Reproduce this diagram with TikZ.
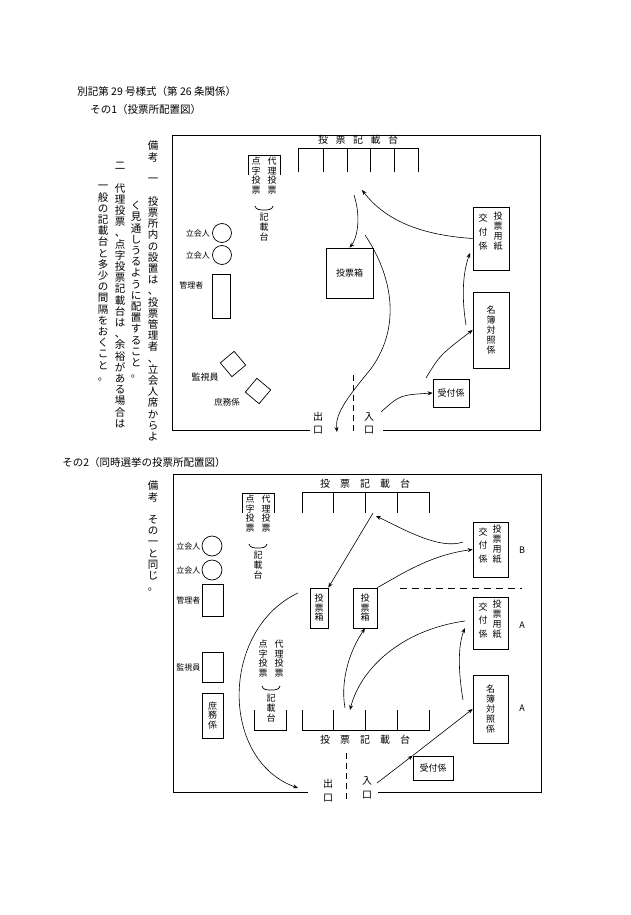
\documentclass[tikz,border=0pt]{standalone}
\usepackage{fontspec}
\setmainfont{Noto Sans CJK JP}
\usetikzlibrary{arrows.meta, positioning, calc}

% vertical text: one character per line
\def\vtx#1{\ifx\relax#1\else\hbox to 1.1em{\hss#1\hss}\expandafter\vtx\fi}
\newcommand\vt[2][1.2em]{\vbox{\baselineskip=#1\lineskip=0pt\vtx#2\relax}}

\begin{document}
\begin{tikzpicture}[x=1pt, y=-1pt,
                    line width=0.7pt,
                    small_label/.style={inner sep=0pt, font=\fontsize{8}{9}\selectfont},
                    vert_label/.style={inner sep=0pt, anchor=north, font=\fontsize{9}{10}\selectfont},
                    note_text/.style={inner sep=0pt, anchor=north, font=\fontsize{10.5}{12}\selectfont},
                    staff/.style={draw, inner sep=0pt, font=\fontsize{9}{10}\selectfont},
                    door/.style={inner sep=0pt, font=\fontsize{10}{11}\selectfont},
                    flow/.style={-{Stealth[length=5pt, width=4pt]}, line width=0.6pt},
                    ]
    \useasboundingbox (0,0) rectangle (630,915);

    % Headings
    \node[anchor=west, inner sep=0pt, font=\fontsize{10.5}{12}\selectfont] (title) at (77,92) {別記第 29 号様式（第 26 条関係）};
    \node[anchor=west, inner sep=0pt, font=\fontsize{10.5}{12}\selectfont] (part1) at (90,110) {その1（投票所配置図）};
    \node[anchor=west, inner sep=0pt, font=\fontsize{10.5}{12}\selectfont] (part2) at (62,463) {その2（同時選挙の投票所配置図）};

    % Notes
    \node[note_text] (biko1) at (153,140) {\vt{備考}};
    \node[note_text] (note1a) at (153,178) {\vt[11.2pt]{一　投票所内の設置は、投票管理者、立会人席からよ}};
    \node[note_text] (note1b) at (136,201) {\vt[11.2pt]{く見通しうるように配置すること。}};
    \node[note_text] (note2a) at (120,162) {\vt[11.2pt]{二　代理投票、点字投票記載台は、余裕がある場合は}};
    \node[note_text] (note2b) at (103,185) {\vt[11.2pt]{一般の記載台と多少の間隔をおくこと。}};
    \node[note_text] (biko2) at (153,480) {\vt{備考}};
    \node[note_text] (note3) at (153,515) {\vt[11.2pt]{その一と同じ。}};

    % ---------------- Layout 1 ----------------
    \draw (310,430) -- (172,430) -- (172,135) -- (540,135) -- (540,430) -- (383,430);
    \draw[dashed, dash pattern=on 6pt off 4pt] (353,375) -- (353,434);
    \node[door] (exit1) at (318,423) {\vt[1.3em]{出口}};
    \node[door] (entry1) at (369,423) {\vt[1.3em]{入口}};

    % voting booths
    \draw (298,172) -- (298,148) -- (418,148) -- (418,172);
    \foreach \x in {323,347,370,394} \draw (\x,148) -- (\x,172);
    \node[inner sep=0pt, font=\fontsize{10}{12}\selectfont] (booths1) at (358,140) {投\hspace{0.75em}票\hspace{0.75em}記\hspace{0.75em}載\hspace{0.75em}台};

    % proxy / braille booth
    \draw (248,175) -- (248,155) -- (280,155) -- (280,175);
    \node[vert_label] (proxy1) at (272,157) {\vt[1.05em]{代理投票}};
    \node[vert_label] (braille1) at (256,157) {\vt[1.05em]{点字投票}};
    \draw (255,206) to[out=-80, in=180] (264,210) to[out=0, in=-100] (273,206);
    \node[vert_label] (desk1) at (264,213) {\vt[1.1em]{記載台}};

    % observers and manager
    \node[draw, circle, minimum size=19pt, inner sep=0pt] (witness1a) at (222,233) {};
    \node[draw, circle, minimum size=19pt, inner sep=0pt] (witness1b) at (222,255) {};
    \node[small_label, left=2pt of witness1a] {立会人};
    \node[small_label, left=2pt of witness1b] {立会人};
    \node[draw, minimum width=18pt, minimum height=44pt, inner sep=0pt] (manager1) at (221,296) {};
    \node[small_label, left=8pt of manager1.north west, anchor=north east, yshift=-8pt] {管理者};
    \node[draw, rotate=40, minimum size=18pt, inner sep=0pt] (monitor1) at (233,364) {};
    \node[draw, rotate=-40, minimum size=18pt, inner sep=0pt] (clerk1) at (258,391) {};
    \node[small_label, font=\fontsize{9}{10}\selectfont] at (205,377) {監視員};
    \node[small_label, font=\fontsize{8.5}{10}\selectfont] at (227,402) {庶務係};

    % staff
    \node[staff, minimum width=47pt, minimum height=50pt] (box1) at (349.5,273) {投票箱};
    \node[draw, minimum width=36pt, minimum height=63pt, inner sep=0pt] (issue1) at (491,238.5) {};
    \node[vert_label] at (498,212) {\vt[1.1em]{投票用紙}};
    \node[vert_label] at (483,214) {\vt[1.55em]{交付係}};
    \node[staff, minimum width=36pt, minimum height=76pt] (roll1) at (491,330) {\vt[1.1em]{名簿対照係}};
    \node[staff, minimum width=36pt, minimum height=28pt] (recept1) at (451,393) {受付係};

    % flows
    \coordinate (booth1out) at (354,195);
    \coordinate (booth1in) at (362,190);
    \coordinate (box1up) at (365,235);
    \coordinate (exit1in) at (337,432);
    \coordinate (entry1out) at (381,412);
    \coordinate (recept1up) at (426,378);
    \coordinate (roll1up) at (466,325);
    \coordinate (issue1in) at (470,253);
    \draw[flow] (booth1out) .. controls (362,220) and (356,240) .. (box1.north);
    \draw[flow] (issue1.west) .. controls (420,235) and (385,220) .. (booth1in);
    \draw[flow] (box1up) .. controls (395,280) and (400,330) .. (370,370) .. controls (345,400) and (335,415) .. (exit1in);
    \draw[flow] (entry1out) .. controls (400,395) .. (recept1.west);
    \draw[flow] (recept1up) .. controls (440,355) .. (roll1.west);
    \draw[flow] (roll1up) .. controls (462,300) and (462,275) .. (issue1in);

    % ---------------- Layout 2 ----------------
    \draw (308,792) -- (173,792) -- (173,474) -- (541,474) -- (541,792) -- (378,792);
    \draw[dashed, dash pattern=on 6pt off 4pt] (346,753) -- (346,800);
    \node[door] (exit2) at (328,791) {\vt[1.4em]{出口}};
    \node[door] (entry2) at (367,788) {\vt[1.4em]{入口}};

    % voting booths
    \draw (302,513) -- (302,492) -- (429,492) -- (429,513);
    \foreach \x in {333,365,397} \draw (\x,492) -- (\x,513);
    \node[inner sep=0pt, font=\fontsize{10}{12}\selectfont] (booths2a) at (365,484) {投\hspace{1em}票\hspace{1em}記\hspace{1em}載\hspace{1em}台};
    \draw (302,710) -- (302,730) -- (429,730) -- (429,710);
    \foreach \x in {333,365,397} \draw (\x,710) -- (\x,730);
    \node[inner sep=0pt, font=\fontsize{10}{12}\selectfont] (booths2b) at (365,740) {投\hspace{1em}票\hspace{1em}記\hspace{1em}載\hspace{1em}台};

    % proxy / braille booths
    \draw (242,513) -- (242,493) -- (274,493) -- (274,513);
    \node[vert_label] (proxy2a) at (266,495) {\vt[1.05em]{代理投票}};
    \node[vert_label] (braille2a) at (250,495) {\vt[1.05em]{点字投票}};
    \draw (249,544) to[out=-80, in=180] (258,548) to[out=0, in=-100] (267,544);
    \node[vert_label] (desk2a) at (258,551) {\vt[1.1em]{記載台}};
    \draw (254,710) -- (254,730) -- (286,730) -- (286,710);
    \node[vert_label] (proxy2b) at (279,640) {\vt[1.05em]{代理投票}};
    \node[vert_label] (braille2b) at (263,640) {\vt[1.05em]{点字投票}};
    \draw (262,686) to[out=-80, in=180] (271,690) to[out=0, in=-100] (280,686);
    \node[vert_label] (desk2b) at (271,694) {\vt[1.1em]{記載台}};

    % observers and manager
    \node[draw, circle, minimum size=20pt, inner sep=0pt] (witness2a) at (212,546) {};
    \node[draw, circle, minimum size=20pt, inner sep=0pt] (witness2b) at (212,570) {};
    \node[small_label, left=1pt of witness2a] {立会人};
    \node[small_label, left=1pt of witness2b] {立会人};
    \node[draw, minimum width=21pt, minimum height=32pt, inner sep=0pt] (manager2) at (212.5,600) {};
    \node[small_label, left=1pt of manager2] {管理者};
    \node[draw, minimum width=21pt, minimum height=30pt, inner sep=0pt] (monitor2) at (212.5,667) {};
    \node[small_label, left=1pt of monitor2] {監視員};
    \node[staff, minimum width=21pt, minimum height=45pt] (clerk2) at (212.5,715.5) {\vt[1.05em]{庶務係}};

    % staff
    \node[staff, minimum width=18pt, minimum height=40pt] (box2a) at (319,608) {\vt[1.05em]{投票箱}};
    \node[staff, minimum width=24pt, minimum height=40pt] (box2b) at (365,608) {\vt[1.05em]{投票箱}};
    \node[draw, minimum width=35pt, minimum height=55pt, inner sep=0pt] (issue2b) at (490.5,549.5) {};
    \node[vert_label] at (497,525) {\vt[1.1em]{投票用紙}};
    \node[vert_label] at (483,528) {\vt[1.45em]{交付係}};
    \node[inner sep=0pt, font=\fontsize{9}{10}\selectfont] (labelB) at (522,550) {B};
    \draw[dashed, dash pattern=on 7pt off 5pt] (400,588) -- (522,588);
    \node[draw, minimum width=35pt, minimum height=52pt, inner sep=0pt] (issue2a) at (490.5,623) {};
    \node[vert_label] at (497,600) {\vt[1.1em]{投票用紙}};
    \node[vert_label] at (483,603) {\vt[1.45em]{交付係}};
    \node[inner sep=0pt, font=\fontsize{9}{10}\selectfont] (labelA1) at (522,625) {A};
    \node[staff, minimum width=35pt, minimum height=68pt] (roll2) at (490.5,709) {\vt[1.1em]{名簿対照係}};
    \node[inner sep=0pt, font=\fontsize{9}{10}\selectfont] (labelA2) at (522,708) {A};
    \node[staff, minimum width=40pt, minimum height=24pt] (recept2) at (433,768) {受付係};

    % flows
    \coordinate (booth2out) at (373,513);
    \coordinate (booth2in) at (376,516);
    \coordinate (booth2low) at (350,710);
    \coordinate (booth2up) at (345,708);
    \coordinate (issue2bout) at (463,542);
    \coordinate (issue2ain) at (465,628);
    \coordinate (issue2aout) at (465,621);
    \coordinate (exit2src) at (298,593);
    \coordinate (exit2in) at (298,788);
    \coordinate (entry2out) at (377,783);
    \coordinate (roll2up) at (463,700);
    \draw[flow] (booth2out) -- (box2a.north east);
    \draw[flow] (issue2bout) .. controls (440,550) and (405,530) .. (booth2in);
    \draw[flow] (box2b.north east) .. controls (400,575) and (430,555) .. (issue2b.west);
    \draw[flow] (exit2src) .. controls (220,630) and (220,760) .. (exit2in);
    \draw[flow] (entry2out) -- (recept2.north west);
    \draw[flow] (recept2.north west) -- (roll2.west);
    \draw[flow] (roll2up) .. controls (458,670) and (458,645) .. (issue2ain);
    \draw[flow] (issue2aout) .. controls (400,630) and (360,670) .. (booth2low);
    \draw[flow] (booth2up) .. controls (340,680) and (350,650) .. (box2b.south);
\end{tikzpicture}
\end{document}
